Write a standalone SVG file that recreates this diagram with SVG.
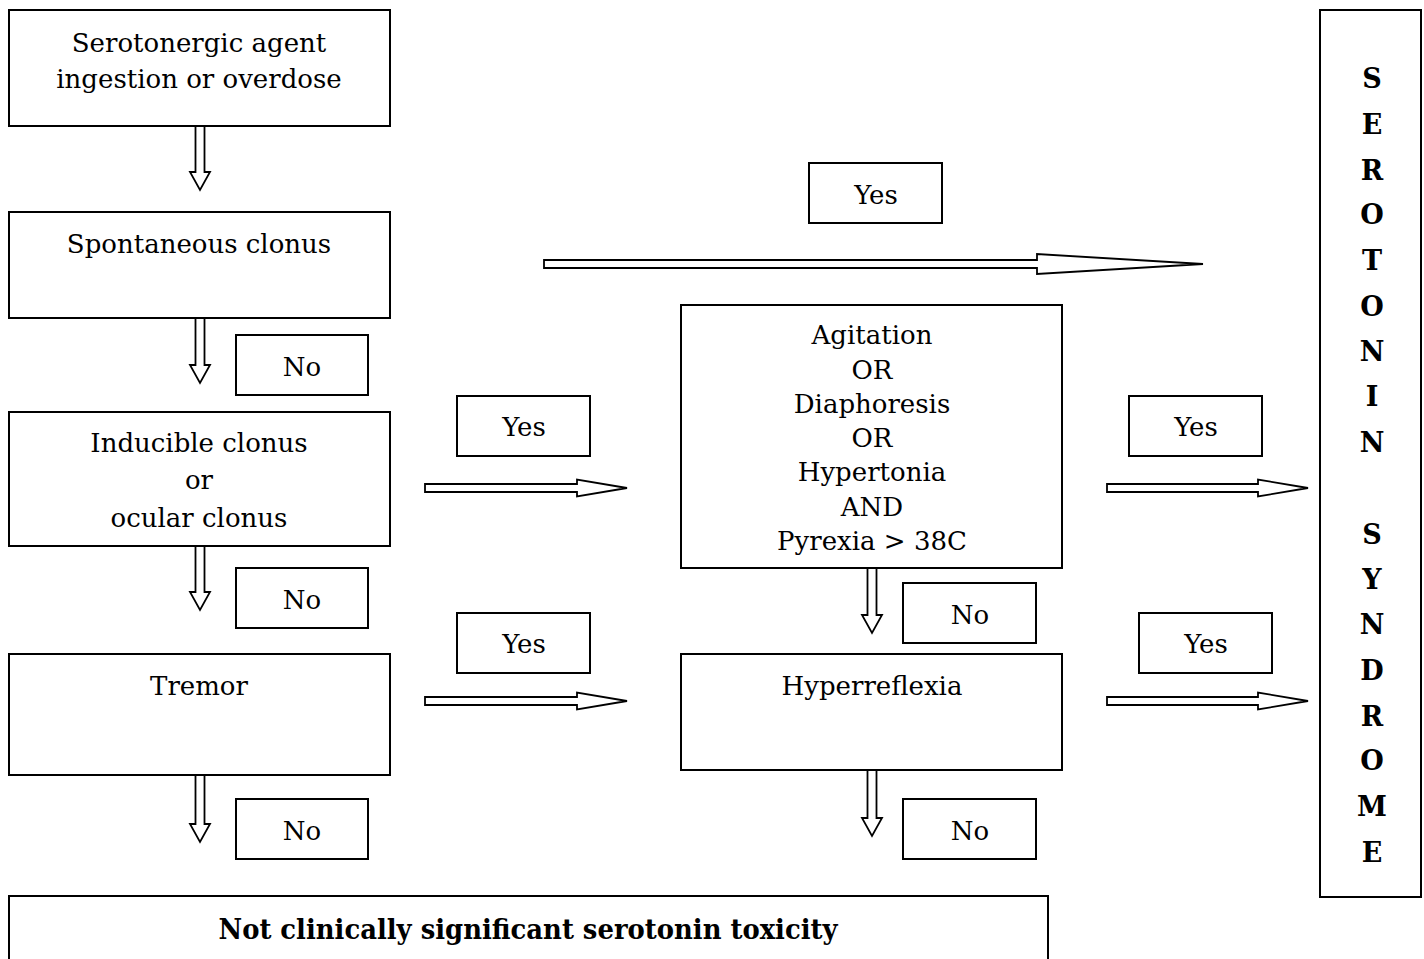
<svg xmlns="http://www.w3.org/2000/svg" width="1424" height="959" viewBox="0 0 1424 959">
<style>
.box{fill:#fff;stroke:#000;stroke-width:2}
.arr{fill:#fff;stroke:#000;stroke-width:1.8;stroke-linejoin:miter}
.t{font-family:"DejaVu Serif","Liberation Serif",serif;font-size:26px;fill:#000;text-anchor:middle}
.b{font-family:"DejaVu Serif","Liberation Serif",serif;font-size:27px;font-weight:bold;fill:#000;text-anchor:middle}
</style>
<rect width="1424" height="959" fill="#fff"/>
<g id="connectors">
<path class="arr" d="M195.5,126 V172 H190 L200,190 L210,172 H204.5 V126 Z"/>
<path class="arr" d="M195.5,318 V365 H190 L200,383 L210,365 H204.5 V318 Z"/>
<path class="arr" d="M195.5,546 V592 H190 L200,610 L210,592 H204.5 V546 Z"/>
<path class="arr" d="M195.5,775 V824 H190 L200,842 L210,824 H204.5 V775 Z"/>
<path class="arr" d="M867.5,568 V615 H862 L872,633 L882,615 H876.5 V568 Z"/>
<path class="arr" d="M867.5,770 V818 H862 L872,836 L882,818 H876.5 V770 Z"/>
<path class="arr" d="M544,260 H1037 V254 L1203,264 L1037,274 V268 H544 Z"/>
<path class="arr" d="M425,484 H577 V479.5 L627,488 L577,496.5 V492 H425 Z"/>
<path class="arr" d="M1107,484 H1258 V479.5 L1308,488 L1258,496.5 V492 H1107 Z"/>
<path class="arr" d="M425,697 H577 V692.5 L627,701 L577,709.5 V705 H425 Z"/>
<path class="arr" d="M1107,697 H1258 V692.5 L1308,701 L1258,709.5 V705 H1107 Z"/>
</g>
<g id="n-start"><rect class="box" x="9" y="10" width="381" height="116"/>
<text class="t" x="199" y="52">Serotonergic agent</text><text class="t" x="199" y="88">ingestion or overdose</text></g>
<g id="n-spont"><rect class="box" x="9" y="212" width="381" height="106"/>
<text class="t" x="199" y="253">Spontaneous clonus</text></g>
<g id="n-no1"><rect class="box" x="236" y="335" width="132" height="60"/><text class="t" x="302" y="376">No</text></g>
<g id="n-induc"><rect class="box" x="9" y="412" width="381" height="134"/>
<text class="t" x="199" y="452">Inducible clonus</text><text class="t" x="199" y="489">or</text><text class="t" x="199" y="527">ocular clonus</text></g>
<g id="n-no2"><rect class="box" x="236" y="568" width="132" height="60"/><text class="t" x="302" y="609">No</text></g>
<g id="n-tremor"><rect class="box" x="9" y="654" width="381" height="121"/>
<text class="t" x="199" y="695">Tremor</text></g>
<g id="n-no3"><rect class="box" x="236" y="799" width="132" height="60"/><text class="t" x="302" y="840">No</text></g>
<g id="n-not"><rect class="box" x="9" y="896" width="1039" height="70"/>
<text class="b" x="528" y="939" font-size="31" textLength="619" lengthAdjust="spacingAndGlyphs">Not clinically significant serotonin toxicity</text></g>
<g id="n-yes-top"><rect class="box" x="809" y="163" width="133" height="60"/><text class="t" x="876" y="204">Yes</text></g>
<g id="n-yes1"><rect class="box" x="457" y="396" width="133" height="60"/><text class="t" x="524" y="436">Yes</text></g>
<g id="n-yes2"><rect class="box" x="457" y="613" width="133" height="60"/><text class="t" x="524" y="653">Yes</text></g>
<g id="n-yes3"><rect class="box" x="1129" y="396" width="133" height="60"/><text class="t" x="1196" y="436">Yes</text></g>
<g id="n-yes4"><rect class="box" x="1139" y="613" width="133" height="60"/><text class="t" x="1206" y="653">Yes</text></g>
<g id="n-agit"><rect class="box" x="681" y="305" width="381" height="263"/>
<text class="t" x="872" y="344">Agitation</text><text class="t" x="872" y="379">OR</text><text class="t" x="872" y="413">Diaphoresis</text><text class="t" x="872" y="447">OR</text><text class="t" x="872" y="481">Hypertonia</text><text class="t" x="872" y="516">AND</text><text class="t" x="872" y="550">Pyrexia &gt; 38C</text></g>
<g id="n-no4"><rect class="box" x="903" y="583" width="133" height="60"/><text class="t" x="970" y="624">No</text></g>
<g id="n-hyper"><rect class="box" x="681" y="654" width="381" height="116"/>
<text class="t" x="872" y="695">Hyperreflexia</text></g>
<g id="n-no5"><rect class="box" x="903" y="799" width="133" height="60"/><text class="t" x="970" y="840">No</text></g>
<g id="n-ss"><rect class="box" x="1320" y="10" width="101" height="887"/>
<g class="b">
<text x="1372" y="88">S</text><text x="1372" y="134">E</text><text x="1372" y="180">R</text><text x="1372" y="224">O</text><text x="1372" y="270">T</text><text x="1372" y="316">O</text><text x="1372" y="361">N</text><text x="1372" y="406">I</text><text x="1372" y="452">N</text>
<text x="1372" y="544">S</text><text x="1372" y="589">Y</text><text x="1372" y="634">N</text><text x="1372" y="680">D</text><text x="1372" y="726">R</text><text x="1372" y="770">O</text><text x="1372" y="816">M</text><text x="1372" y="862">E</text>
</g></g>
</svg>
